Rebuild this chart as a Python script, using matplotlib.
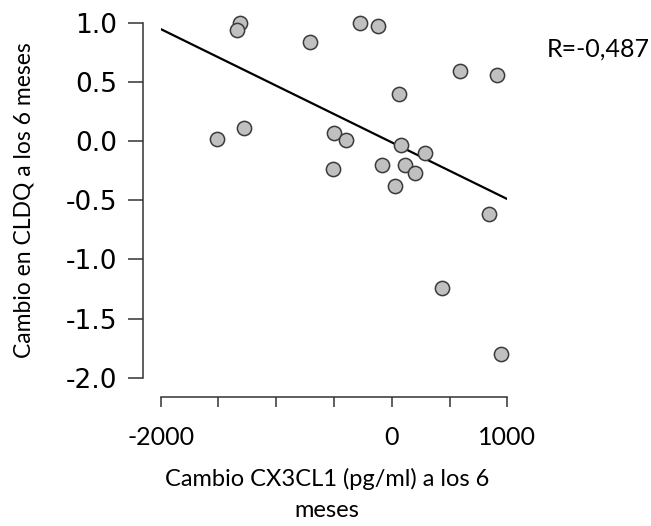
import numpy as np
import matplotlib
matplotlib.use("Agg")
import matplotlib.pyplot as plt

# values
cx3cl1_change = [-1313, -1336, -705, -272, -116, 591, 914, 66, -1509, -1278,
                 -497, -396, 78, 288, -508, -84, 118, 199, 29, 842, 435, 943]
cldq_change = [1.00, 0.94, 0.84, 1.00, 0.97, 0.59, 0.56, 0.40, 0.02, 0.11,
               0.07, 0.01, -0.03, -0.10, -0.24, -0.20, -0.20, -0.27, -0.38,
               -0.62, -1.24, -1.80]
x_ticks = [-2000, -1500, -1000, -500, 0, 500, 1000]
x_tick_labels = ['-2000', '', '', '', '0', '', '1000']
y_ticks = [-2.0, -1.5, -1.0, -0.5, 0.0, 0.5, 1.0]
r_text = 'R=-0,487'

fig = plt.figure(figsize=(6.51, 5.26), dpi=100)
ax = fig.add_axes([0.2469, 0.2819, 0.5324, 0.6749])

# regression line over the x range
slope, intercept = np.polyfit(cx3cl1_change, cldq_change, 1)
x_line = np.array([x_ticks[0], x_ticks[-1]])
ax.plot(x_line, slope * x_line + intercept, color='black', lw=1.6, zorder=2)

ax.scatter(cx3cl1_change, cldq_change, s=105, facecolor='#c0c0c0',
           edgecolor='#3a3a3a', linewidth=1.1, zorder=3, clip_on=False)

ax.set_xlim(-2000, 1000)
ax.set_ylim(-2.0, 1.0)

for side in ['top', 'right']:
    ax.spines[side].set_visible(False)
ax.spines['left'].set_position(('outward', 12.5))
ax.spines['bottom'].set_position(('outward', 14))
for side in ['left', 'bottom']:
    ax.spines[side].set_color('#333333')
    ax.spines[side].set_linewidth(1.1)

ax.set_xticks(x_ticks)
ax.set_xticklabels(x_tick_labels, fontfamily='Lato', fontsize=18)
ax.set_yticks(y_ticks)
ax.set_yticklabels([f'{v:.1f}' for v in y_ticks], fontfamily='DejaVu Sans', fontsize=19)
ax.tick_params(axis='x', length=7, width=1.1, color='#333333', pad=14)
ax.tick_params(axis='y', length=11, width=1.1, color='#333333', pad=8)

ax.set_xlabel('Cambio CX3CL1 (pg/ml) a los 6\nmeses', fontfamily='Lato',
              fontsize=17, linespacing=1.55)
ax.xaxis.set_label_coords(0.48, -0.255)
ax.xaxis.label.set_va('top')
ax.set_ylabel('Cambio en CLDQ a los 6 meses', fontfamily='Lato', fontsize=16.5,
              labelpad=22)

fig.text(547 / 651, 1 - 49 / 526, r_text, fontfamily='Lato', fontsize=18,
         ha='left', va='center')

fig.savefig('out.png', dpi=100)
